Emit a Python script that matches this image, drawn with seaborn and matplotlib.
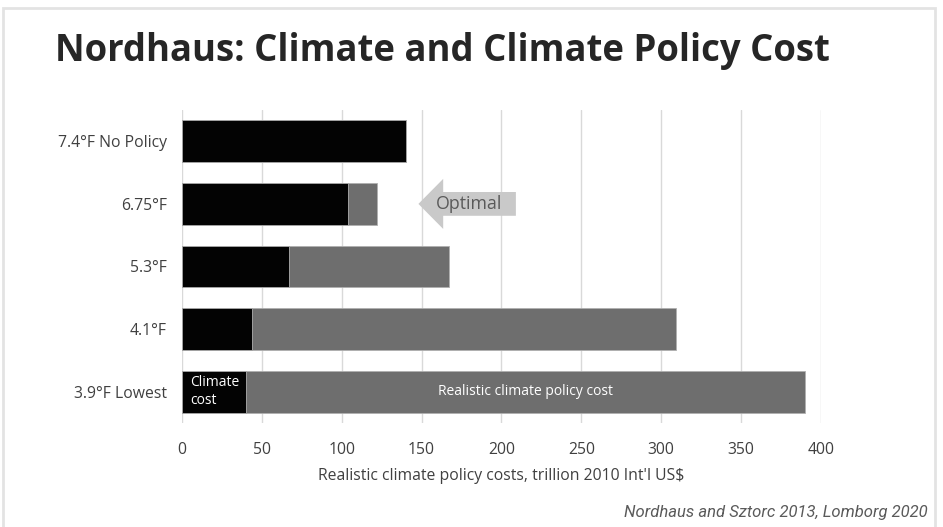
import matplotlib
matplotlib.use("Agg")
import matplotlib.pyplot as plt
import seaborn as sns
import pandas as pd
from matplotlib.patches import Polygon, Rectangle

# ---- data (trillion 2010 Int'l US$) ----
scenarios = ["7.4°F No Policy", "6.75°F", "5.3°F", "4.1°F", "3.9°F Lowest"]
climate_cost = [140, 104, 67, 44, 40]
policy_cost = [0, 18, 100, 265, 350]
x_ticks = [0, 50, 100, 150, 200, 250, 300, 350, 400]

df = pd.DataFrame({"scenario": scenarios,
                   "climate": climate_cost,
                   "policy": policy_cost})
df["total"] = df["climate"] + df["policy"]

sns.set_theme(style="white")
plt.rcParams["font.family"] = ["Open Sans", "DejaVu Sans"]

fig = plt.figure(figsize=(9.43, 5.27), dpi=100)
fig.patch.set_facecolor("white")
ax = fig.add_axes([182 / 943, 1 - 423 / 527, 639 / 943, 313 / 527])

GRAY = "#6e6e6e"
BLACK = "#030303"
sns.barplot(data=df, y="scenario", x="total", color=GRAY, width=0.67,
            orient="h", ax=ax, saturation=1, edgecolor="#b0b0b0",
            linewidth=0.6, zorder=2)
sns.barplot(data=df, y="scenario", x="climate", color=BLACK, width=0.67,
            orient="h", ax=ax, saturation=1, edgecolor="#b0b0b0",
            linewidth=0.6, zorder=3)

ax.set_xlim(0, 400)
ax.set_ylim(4.5, -0.5)
ax.set_xticks(x_ticks)
ax.set_xticklabels([str(t) for t in x_ticks])
ax.xaxis.grid(True, color="#d9d9d9", linewidth=1.0, zorder=0)
ax.set_axisbelow(True)
for s in ax.spines.values():
    s.set_visible(False)
ax.tick_params(axis="both", length=0, labelsize=11.3, colors="#404040")
ax.tick_params(axis="x", pad=14)
ax.tick_params(axis="y", pad=11)
ax.set_ylabel("")
ax.set_xlabel("Realistic climate policy costs, trillion 2010 Int'l US$",
              fontsize=11.3, color="#404040", labelpad=7)

# in-bar labels on the lowest scenario
i = len(scenarios) - 1
ax.text(5, i, "Climate\ncost", color="white", fontsize=10,
        ha="left", va="center", linespacing=1.25, zorder=5)
ax.text(climate_cost[i] + policy_cost[i] / 2, i, "Realistic climate policy cost",
        color="white", fontsize=10, ha="center", va="center", zorder=5)

# "Optimal" arrow annotation next to the 6.75°F bar
j = 1
tip = climate_cost[j] + policy_cost[j] + 26
head = tip + 15.5
tail = tip + 61
arrow = Polygon([(tip, j), (head, j - 0.40), (head, j - 0.19), (tail, j - 0.19),
                 (tail, j + 0.19), (head, j + 0.19), (head, j + 0.40)],
                closed=True, facecolor="#c9c9c9", edgecolor="none", zorder=4)
ax.add_patch(arrow)
ax.text((tip + tail) / 2 + 1.5, j, "Optimal", color="#5a5a5a", fontsize=12.8,
        ha="center", va="center", zorder=5)

# title and source
fig.text(55 / 943, 1 - 51 / 527, "Nordhaus: Climate and Climate Policy Cost",
         fontsize=26.3, fontweight="bold", color="#262626", ha="left",
         va="center")
fig.text(928 / 943, 1 - 512 / 527, "Nordhaus and Sztorc 2013, Lomborg 2020",
         fontsize=12, fontstyle="italic", color="#5a5a5a", ha="right",
         va="center", family=["Roboto", "DejaVu Sans"])

# light frame
fig.patches.append(Rectangle((3 / 943, -0.05), 932 / 943, 1 - 8 / 527 + 0.05,
                             transform=fig.transFigure, fill=False,
                             edgecolor="#e3e3e3", linewidth=2))

fig.savefig("out.png", dpi=100, facecolor="white")
